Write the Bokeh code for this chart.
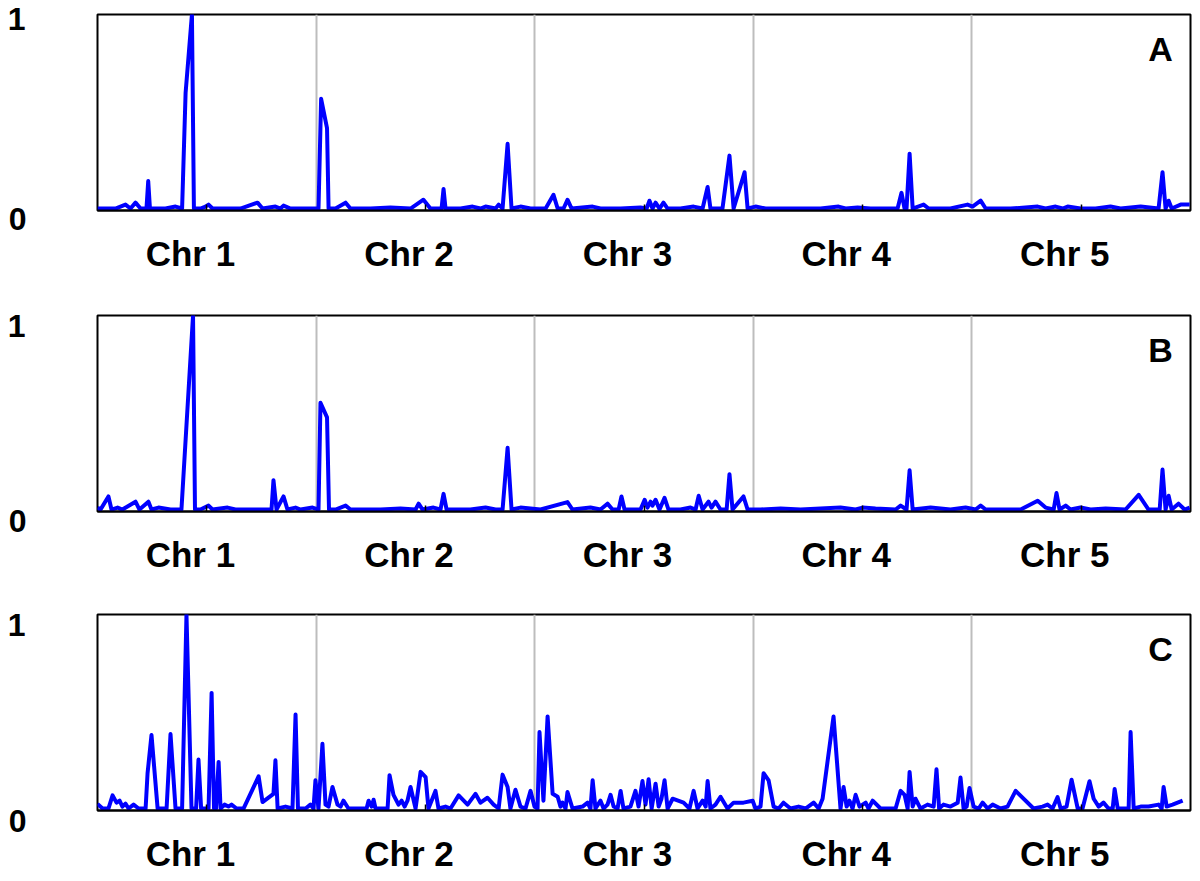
from bokeh.plotting import figure
from bokeh.layouts import column, row
from bokeh.models import FixedTicker, Label, Range1d
from bokeh.core.properties import value
from bokeh.embed import file_html
from bokeh.resources import INLINE

# chromosome layout (positions: each chromosome spans 100 units)
chrom_names = ["Chr 1", "Chr 2", "Chr 3", "Chr 4", "Chr 5"]
chrom_starts = [0, 100, 200, 300, 400]
chrom_label_pos = [42.5, 142.5, 242.5, 342.5, 442.5]
chrom_mid = [50, 150, 250, 350, 450]
panel_names = ["A", "B", "C"]
y_tick_values = [0, 1]
y_tick_labels = ["0", "1"]

a_pos = [0, 8.2, 12.8, 15.1, 17.4, 19.7, 22.4, 23.2, 24.0, 31.1, 35.7, 38.7, 40.3, 43.2, 44.1,
         47.1, 49.4, 50.8, 52.6, 58.6, 65.4, 73.2, 75.5, 81.4, 83.7, 85.1, 88.3, 92.9,
         101.1, 102.3, 105.0, 105.7, 108.9, 113.5, 115.7, 124.9, 134.0, 143.2, 149.1, 152.3,
         157.4, 158.3, 159.2, 166.1, 171.6, 175.2, 177.5, 182.1, 183.5, 185.3, 187.6, 189.4,
         193.5, 198.1, 205.0, 208.6, 210.5, 213.2, 215.0, 216.9, 226.5, 230.1, 239.3, 248.4,
         251.2, 252.5, 253.9, 255.3, 257.1, 258.9, 260.8, 266.7, 272.7, 276.8, 279.1, 280.4,
         285.9, 289.1, 291.0, 296.0, 297.4, 301.0, 305.6, 317.0, 330.8, 339.0, 342.2, 347.7,
         353.6, 358.2, 366.0, 367.8, 369.2, 370.1, 371.5, 372.9, 377.9, 380.2, 390.2, 398.0,
         400.3, 404.0, 406.3, 417.7, 430.1, 433.7, 438.3, 441.5, 443.8, 449.7, 456.6, 463.4,
         468.0, 477.2, 485.4, 487.2, 488.6, 490.0, 491.4, 495.5, 499.6]
a_val = [0.01, 0.01, 0.03, 0.01, 0.04, 0.01, 0.01, 0.15, 0.01, 0.01, 0.02, 0.01, 0.60, 1.00, 0.01,
         0.01, 0.02, 0.03, 0.01, 0.01, 0.01, 0.04, 0.01, 0.02, 0.01, 0.025, 0.01, 0.01,
         0.01, 0.57, 0.42, 0.01, 0.01, 0.04, 0.01, 0.01, 0.015, 0.01, 0.055, 0.01,
         0.01, 0.11, 0.01, 0.01, 0.02, 0.01, 0.02, 0.01, 0.03, 0.01, 0.34, 0.01,
         0.02, 0.01, 0.01, 0.08, 0.01, 0.01, 0.055, 0.01, 0.02, 0.01, 0.01, 0.015,
         0.01, 0.05, 0.01, 0.04, 0.01, 0.04, 0.01, 0.01, 0.02, 0.01, 0.12, 0.01,
         0.01, 0.28, 0.01, 0.195, 0.01, 0.02, 0.01, 0.01, 0.01, 0.02, 0.01, 0.015,
         0.01, 0.01, 0.01, 0.09, 0.01, 0.01, 0.29, 0.01, 0.03, 0.01, 0.01, 0.03,
         0.02, 0.05, 0.01, 0.01, 0.02, 0.01, 0.02, 0.01, 0.02, 0.01, 0.01, 0.02,
         0.01, 0.02, 0.01, 0.195, 0.01, 0.05, 0.01, 0.03, 0.03]

b_pos = [0, 1.4, 5.0, 6.4, 9.2, 11.4, 17.4, 19.2, 23.3, 24.7, 27.9, 33.4, 38.4, 43.7, 44.6,
         47.1, 50.8, 52.6, 59.5, 63.1, 74.6, 79.6, 80.5, 81.9, 85.1, 86.9, 90.6, 92.9, 98.4,
         101.1, 102.0, 105.0, 105.9, 108.9, 113.5, 115.7, 129.5, 138.6, 145.5, 146.9, 148.7,
         153.7, 156.9, 158.3, 159.7, 170.6, 177.5, 182.1, 185.3, 187.6, 189.4, 193.5, 202.7,
         215.0, 217.3, 225.5, 230.1, 233.3, 235.6, 238.4, 239.7, 241.1, 248.4, 250.3, 251.6,
         253.0, 253.9, 255.3, 257.1, 259.4, 261.2, 266.7, 271.3, 273.6, 275.0, 276.8, 279.5,
         280.9, 282.7, 285.0, 287.8, 289.1, 290.5, 295.5, 297.4, 303.3, 312.5, 321.6, 339.9,
         346.8, 350.0, 355.9, 365.1, 367.4, 370.1, 371.5, 372.9, 381.1, 390.2, 397.1, 401.7,
         404.0, 406.3, 422.3, 430.1, 433.7, 437.4, 438.7, 440.1, 442.9, 445.1, 449.7, 454.3,
         461.2, 470.3, 476.3, 480.8, 485.9, 487.2, 488.6, 490.0, 491.4, 494.5, 497.3, 499.6]
b_val = [0.02, 0.01, 0.077, 0.01, 0.02, 0.01, 0.05, 0.01, 0.05, 0.01, 0.02, 0.01, 0.01, 1.00, 0.01,
         0.01, 0.03, 0.01, 0.02, 0.01, 0.01, 0.01, 0.16, 0.01, 0.077, 0.01, 0.02, 0.01, 0.02,
         0.01, 0.555, 0.48, 0.01, 0.01, 0.03, 0.01, 0.01, 0.015, 0.01, 0.04, 0.01,
         0.02, 0.01, 0.09, 0.01, 0.01, 0.02, 0.01, 0.01, 0.325, 0.01, 0.02, 0.01,
         0.048, 0.01, 0.02, 0.01, 0.04, 0.01, 0.01, 0.077, 0.01, 0.01, 0.06, 0.02,
         0.05, 0.03, 0.06, 0.01, 0.07, 0.01, 0.01, 0.02, 0.01, 0.08, 0.01, 0.05,
         0.02, 0.05, 0.01, 0.01, 0.19, 0.01, 0.077, 0.01, 0.01, 0.015, 0.01, 0.02,
         0.01, 0.02, 0.015, 0.01, 0.03, 0.01, 0.21, 0.01, 0.02, 0.01, 0.02, 0.01,
         0.03, 0.01, 0.01, 0.055, 0.02, 0.01, 0.094, 0.01, 0.03, 0.01, 0.02, 0.01,
         0.015, 0.01, 0.085, 0.01, 0.01, 0.214, 0.01, 0.08, 0.01, 0.04, 0.01, 0.02]

c_pos = [0, 2.3, 5.0, 6.9, 8.7, 10.1, 11.4, 12.8, 14.2, 16.5, 18.8, 22.0, 22.9, 24.7, 27.5,
         31.6, 33.4, 35.7, 38.7, 40.7, 43.0, 45.1, 46.2, 47.4, 50.8, 52.2, 53.3, 54.2, 55.4,
         56.3, 58.1, 59.9, 61.3, 63.6, 66.8, 73.7, 75.5, 80.5, 81.4, 82.4, 86.0, 89.2, 90.6,
         91.7, 95.2, 97.4, 98.8, 99.7, 101.1, 102.9, 104.3, 105.7, 107.5, 109.8, 111.2, 112.5,
         114.8, 120.3, 123.1, 124.0, 125.4, 126.3, 127.2, 132.7, 133.6, 135.4, 137.7, 139.1,
         140.5, 141.8, 143.2, 145.5, 147.8, 150.1, 151.4, 154.6, 156.0, 159.2, 161.5, 165.2,
         169.3, 172.9, 175.2, 178.4, 181.2, 183.5, 185.3, 187.6, 188.9, 191.2, 193.5, 195.8,
         198.1, 199.9, 201.3, 202.2, 204.0, 205.9, 208.2, 210.5, 211.8, 212.7, 214.1, 215.0,
         217.3, 221.9, 224.2, 225.5, 226.5, 227.8, 230.1, 231.5, 233.3, 234.7, 236.1, 237.9,
         239.3, 240.6, 243.8, 246.1, 247.5, 249.3, 250.7, 252.1, 253.5, 255.3, 256.7, 258.0,
         259.4, 260.8, 263.1, 268.1, 270.8, 272.7, 274.5, 276.8, 278.2, 279.1, 280.4, 282.7,
         285.0, 288.2, 291.0, 295.5, 299.7, 301.0, 303.3, 304.7, 307.0, 309.3, 311.6, 313.8,
         317.0, 320.7, 323.9, 327.6, 329.9, 331.7, 336.7, 339.9, 341.3, 342.7, 344.0, 345.4,
         346.8, 348.6, 351.4, 352.7, 354.6, 358.2, 365.1, 367.4, 369.2, 370.6, 371.5, 372.9,
         374.2, 376.5, 379.7, 382.5, 383.8, 385.0, 387.0, 390.2, 393.5, 394.8, 396.2, 397.6,
         398.9, 400.8, 403.1, 404.9, 407.2, 409.5, 413.1, 416.3, 420.0, 428.2, 432.3, 434.6,
         436.9, 439.2, 440.6, 443.3, 445.6, 448.4, 450.6, 453.8, 455.7, 458.0, 460.2, 462.5,
         464.4, 465.3, 466.7, 470.3, 471.7, 472.6, 474.0, 477.2, 480.8, 485.4, 486.8, 487.7,
         489.1, 491.8, 496.4]
c_val = [0.034, 0.01, 0.01, 0.077, 0.04, 0.05, 0.02, 0.035, 0.01, 0.03, 0.01, 0.01, 0.19, 0.385, 0.01,
         0.01, 0.39, 0.01, 0.01, 1.00, 0.01, 0.01, 0.26, 0.01, 0.01, 0.60, 0.01, 0.01, 0.248,
         0.01, 0.03, 0.02, 0.03, 0.01, 0.01, 0.174, 0.043, 0.085, 0.256, 0.01, 0.02, 0.01, 0.49,
         0.01, 0.01, 0.03, 0.01, 0.154, 0.01, 0.34, 0.03, 0.02, 0.12, 0.03, 0.02, 0.05,
         0.01, 0.01, 0.01, 0.05, 0.02, 0.055, 0.01, 0.01, 0.18, 0.08, 0.03, 0.05,
         0.02, 0.05, 0.12, 0.01, 0.197, 0.17, 0.01, 0.10, 0.01, 0.02, 0.01, 0.077,
         0.03, 0.085, 0.04, 0.065, 0.03, 0.01, 0.183, 0.12, 0.01, 0.106, 0.02, 0.01,
         0.10, 0.02, 0.01, 0.40, 0.05, 0.48, 0.085, 0.07, 0.02, 0.04, 0.01, 0.094,
         0.01, 0.02, 0.04, 0.01, 0.154, 0.01, 0.05, 0.01, 0.03, 0.08, 0.02, 0.01,
         0.10, 0.01, 0.02, 0.10, 0.02, 0.15, 0.03, 0.16, 0.01, 0.137, 0.02, 0.06,
         0.154, 0.01, 0.06, 0.04, 0.01, 0.10, 0.01, 0.05, 0.02, 0.15, 0.01, 0.03,
         0.07, 0.01, 0.04, 0.04, 0.05, 0.01, 0.02, 0.19, 0.154, 0.02, 0.01, 0.04,
         0.01, 0.02, 0.01, 0.04, 0.01, 0.06, 0.48, 0.01, 0.12, 0.02, 0.05, 0.01,
         0.08, 0.02, 0.04, 0.01, 0.05, 0.01, 0.01, 0.10, 0.08, 0.01, 0.197, 0.02,
         0.06, 0.01, 0.03, 0.02, 0.21, 0.01, 0.03, 0.02, 0.04, 0.168, 0.01, 0.02,
         0.115, 0.02, 0.01, 0.04, 0.01, 0.03, 0.01, 0.02, 0.10, 0.01, 0.02, 0.03,
         0.01, 0.068, 0.01, 0.02, 0.157, 0.01, 0.01, 0.149, 0.06, 0.02, 0.04, 0.01,
         0.01, 0.11, 0.01, 0.01, 0.01, 0.40, 0.01, 0.02, 0.02, 0.03, 0.01, 0.12,
         0.02, 0.03, 0.05]

series = [(a_pos, a_val), (b_pos, b_val), (c_pos, c_val)]

FONT = "Liberation Sans"
FRAME_W, FRAME_H = 1093, 196
LEFT_W = 95          # width of the strip that carries the 0 / 1 labels
TOP = 14
heights = [301, 299, 275]
# vertical pixel shift (downwards) of the "0" and "1" labels in each panel
label_shift = [(8, 4), (9, 10), (10, 10)]


def no_frame_align(fig):
    if "frame_align" in fig.properties():
        fig.frame_align = False


rows = []
for i, (xs, ys) in enumerate(series):
    H = heights[i]
    p = figure(width=2 + FRAME_W + 3, height=H, x_range=(0, 500), y_range=(0, 1),
               output_backend="svg", toolbar_location=None, y_axis_location=None,
               min_border_left=2, min_border_right=3, min_border_top=TOP,
               min_border_bottom=H - TOP - FRAME_H)
    no_frame_align(p)
    p.outline_line_color = "black"
    p.outline_line_width = 2
    p.outline_line_alpha = 1
    p.ygrid.visible = False
    p.xgrid.ticker = FixedTicker(ticks=chrom_starts)
    p.xgrid.grid_line_color = "#bdbdbd"
    p.xgrid.grid_line_width = 2

    p.line(xs, ys, line_color="#0000ff", line_width=4, line_join="round")

    ax = p.xaxis[0]
    ax.ticker = FixedTicker(ticks=chrom_label_pos, minor_ticks=chrom_mid)
    ax.major_label_overrides = {k: v for k, v in zip(chrom_label_pos, chrom_names)}
    ax.major_tick_line_color = None
    ax.major_tick_in = 0
    ax.major_tick_out = 0
    ax.minor_tick_in = 6
    ax.minor_tick_out = 0
    ax.minor_tick_line_color = "black"
    ax.minor_tick_line_width = 1.5
    ax.axis_line_color = "black"
    ax.axis_line_width = 2
    ax.major_label_standoff = 23
    ax.major_label_text_font = FONT
    ax.major_label_text_font_style = "bold"
    ax.major_label_text_font_size = "35px"
    ax.major_label_text_color = "black"

    p.add_layout(Label(x=500, y=1, x_offset=-30, y_offset=-34, text=panel_names[i],
                       text_align="center", text_baseline="middle", text_font=FONT,
                       text_font_style="bold", text_font_size="34px", text_color="black"))

    # label strip: same vertical scale as the panel frame, its own frame covers it all
    lab = figure(width=LEFT_W, height=H, x_range=(0, LEFT_W),
                 y_range=Range1d(-(H - TOP - FRAME_H) / FRAME_H, 1 + TOP / FRAME_H),
                 output_backend="svg", toolbar_location=None,
                 x_axis_location=None, y_axis_location=None,
                 min_border=0, min_border_left=0, min_border_right=0,
                 min_border_top=0, min_border_bottom=0)
    no_frame_align(lab)
    lab.outline_line_color = None
    lab.grid.visible = False
    ly = [v - s / FRAME_H for v, s in zip(y_tick_values, label_shift[i])]
    lab.text(x=[26, 25], y=ly, text=y_tick_labels, text_align="right",
             text_baseline="middle", text_font=value(FONT), text_font_style="bold",
             text_font_size="32px", text_color="black")
    rows.append(row(lab, p, spacing=0))

layout = column(*rows, spacing=0)
open("out.html", "w").write(file_html(layout, INLINE))
